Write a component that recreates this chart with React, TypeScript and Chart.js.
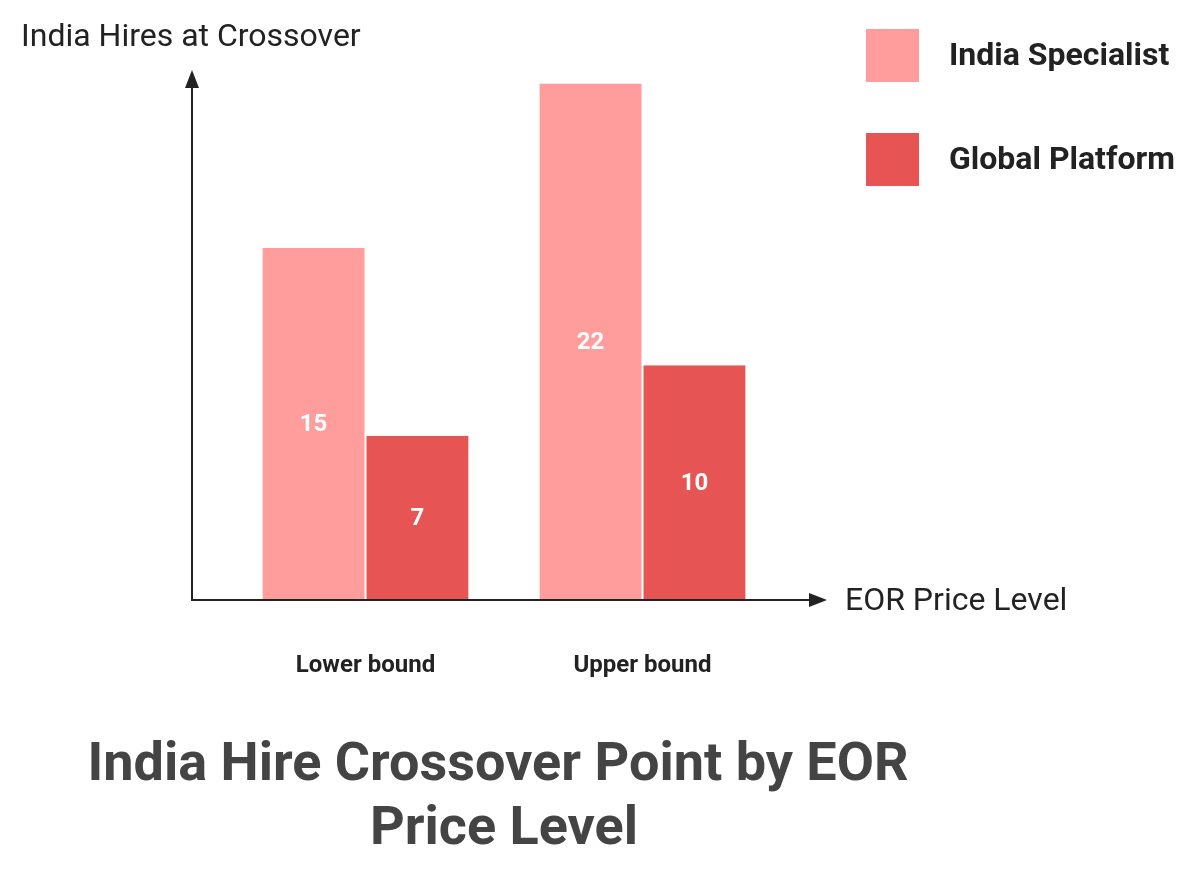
import React, { useEffect, useRef } from "react";
import { Chart, registerables, Plugin } from "chart.js";

Chart.register(...registerables);

const categories = ["Lower bound", "Upper bound"];
const indiaSpecialist = [15, 22];
const globalPlatform = [7, 10];
const seriesNames = ["India Specialist", "Global Platform"];
const seriesColors = ["#FF9C9C", "#E65454"];
const yAxisTitle = "India Hires at Crossover";
const xAxisTitle = "EOR Price Level";
const titleLines = ["India Hire Crossover Point by EOR", "Price Level"];

const FONT = "Roboto, 'Noto Sans', sans-serif";

// axes with arrows, labels, legend, values and title
const decorPlugin: Plugin<"bar"> = {
  id: "decor",
  afterDatasetsDraw(chart) {
    const { ctx, chartArea } = chart;
    const axisX = 192;
    const baseY = chartArea.bottom;
    ctx.save();
    ctx.strokeStyle = "#222";
    ctx.fillStyle = "#222";
    ctx.lineWidth = 2;

    // y axis
    ctx.beginPath();
    ctx.moveTo(axisX, baseY + 1);
    ctx.lineTo(axisX, 84);
    ctx.stroke();
    ctx.beginPath();
    ctx.moveTo(axisX, 70);
    ctx.lineTo(axisX - 7, 88);
    ctx.lineTo(axisX + 7, 88);
    ctx.closePath();
    ctx.fill();

    // x axis
    ctx.beginPath();
    ctx.moveTo(axisX - 1, baseY);
    ctx.lineTo(812, baseY);
    ctx.stroke();
    ctx.beginPath();
    ctx.moveTo(827, baseY);
    ctx.lineTo(809, baseY - 7);
    ctx.lineTo(809, baseY + 7);
    ctx.closePath();
    ctx.fill();

    // axis titles
    ctx.font = `400 32px ${FONT}`;
    ctx.textBaseline = "middle";
    ctx.textAlign = "left";
    ctx.fillText(yAxisTitle, 21, 38);
    ctx.fillText(xAxisTitle, 845, 602);

    // category labels
    const xScale = chart.scales.x;
    ctx.font = `700 24px ${FONT}`;
    ctx.textAlign = "center";
    categories.forEach((c, i) => {
      ctx.fillText(c, xScale.getPixelForValue(i), 666);
    });

    // value labels
    ctx.fillStyle = "#fff";
    ctx.font = `700 24px ${FONT}`;
    chart.data.datasets.forEach((ds, di) => {
      const meta = chart.getDatasetMeta(di);
      meta.data.forEach((el: any, i) => {
        const mid = (el.y + el.base) / 2;
        ctx.fillText(String(ds.data[i]), el.x, mid + 1);
      });
    });

    // legend
    seriesNames.forEach((name, i) => {
      const top = 29 + i * 104;
      ctx.fillStyle = seriesColors[i];
      ctx.fillRect(866, top, 53, 53);
      ctx.fillStyle = "#222";
      ctx.font = `700 32px ${FONT}`;
      ctx.textAlign = "left";
      ctx.fillText(name, 949, top + 28);
    });

    // title
    ctx.fillStyle = "#444";
    ctx.font = `700 54px ${FONT}`;
    ctx.textAlign = "center";
    ctx.fillText(titleLines[0], 498, 766);
    ctx.fillText(titleLines[1], 504, 830);

    ctx.restore();
  },
};

const App = () => {
  const canvasRef = useRef<HTMLCanvasElement>(null);

  useEffect(() => {
    document.body.style.margin = "0";
    if (!canvasRef.current) return;
    const chart = new Chart(canvasRef.current, {
      type: "bar",
      data: {
        labels: categories,
        datasets: [
          {
            label: seriesNames[0],
            data: indiaSpecialist,
            backgroundColor: seriesColors[0],
            borderColor: "#ffffff",
            borderWidth: { left: 1, right: 1 },
          },
          {
            label: seriesNames[1],
            data: globalPlatform,
            backgroundColor: seriesColors[1],
            borderColor: "#ffffff",
            borderWidth: { left: 1, right: 1 },
          },
        ],
      },
      options: {
        animation: false,
        responsive: false,
        devicePixelRatio: 1,
        layout: { padding: { left: 227, right: 419, top: 60, bottom: 271 } },
        datasets: { bar: { categoryPercentage: 0.75, barPercentage: 1 } },
        plugins: {
          legend: { display: false },
          tooltip: { enabled: false },
          title: { display: false },
        },
        scales: {
          x: { display: false, offset: true },
          y: { display: false, min: 0, max: 23 },
        },
      },
      plugins: [decorPlugin],
    });
    return () => {
      chart.destroy();
    };
  }, []);

  return (
    <div style={{ width: 1200, height: 871, background: "#fff" }}>
      <canvas ref={canvasRef} width={1200} height={871} />
    </div>
  );
};

export default App;
